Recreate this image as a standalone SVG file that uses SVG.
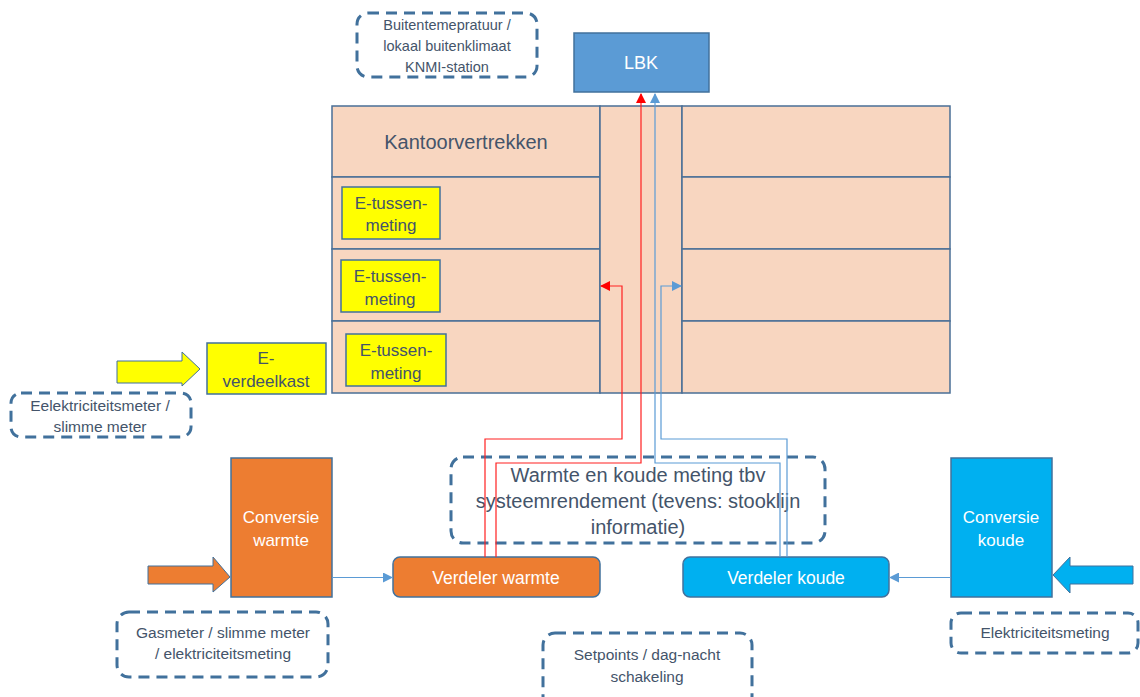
<svg xmlns="http://www.w3.org/2000/svg" width="1140" height="697" viewBox="0 0 1140 697">
<defs>
<style>
text{font-family:"Liberation Sans",Arial,sans-serif;text-anchor:middle}
.lbl{fill:#44546a}
.wt{fill:#ffffff}
.dash{fill:none;stroke:#41719c;stroke-width:3;stroke-dasharray:11 7}
.room{fill:#f8d6c0;stroke:#4a6f96;stroke-width:1.5}
.ybox{fill:#ffff00;stroke:#41719c;stroke-width:1.5}
.red{fill:none;stroke:#ff2020;stroke-width:1.2}
.blu{fill:none;stroke:#5b9bd5;stroke-width:1.2}
.n{font-size:15.5px}
.e{font-size:17px}
</style>
<marker id="ar" viewBox="0 0 10 10" refX="9" refY="5" markerWidth="10" markerHeight="10" markerUnits="userSpaceOnUse" orient="auto"><path d="M0,0L10,5L0,10z" fill="#ff0000"/></marker>
<marker id="ab" viewBox="0 0 10 10" refX="9" refY="5" markerWidth="10" markerHeight="10" markerUnits="userSpaceOnUse" orient="auto"><path d="M0,0L10,5L0,10z" fill="#5b9bd5"/></marker>
</defs>
<rect width="1140" height="697" fill="#ffffff"/>

<g id="building">
<rect class="room" x="332" y="106" width="268" height="71"/>
<rect class="room" x="332" y="177" width="268" height="72"/>
<rect class="room" x="332" y="249" width="268" height="72"/>
<rect class="room" x="332" y="321" width="268" height="72"/>
<rect class="room" x="600" y="106" width="82" height="287"/>
<rect class="room" x="682" y="106" width="268" height="71"/>
<rect class="room" x="682" y="177" width="268" height="72"/>
<rect class="room" x="682" y="249" width="268" height="72"/>
<rect class="room" x="682" y="321" width="268" height="72"/>
<text class="lbl" x="466" y="149" font-size="20">Kantoorvertrekken</text>
</g>

<g id="etm1"><rect class="ybox" x="342" y="187" width="98" height="52"/><text class="lbl e" x="391" y="209">E-tussen-</text><text class="lbl e" x="391" y="231">meting</text></g>
<g id="etm2"><rect class="ybox" x="341" y="260" width="99" height="52"/><text class="lbl e" x="390" y="282">E-tussen-</text><text class="lbl e" x="390" y="305">meting</text></g>
<g id="etm3"><rect class="ybox" x="346" y="334" width="100" height="52"/><text class="lbl e" x="396" y="356">E-tussen-</text><text class="lbl e" x="396" y="379">meting</text></g>

<g id="lbk"><rect x="574" y="33" width="135" height="59" fill="#5b9bd5" stroke="#41719c" stroke-width="1.5"/><text class="wt" x="641" y="69" font-size="18">LBK</text></g>

<g id="everdeel"><rect x="207" y="343" width="119" height="51" fill="#ffff00" stroke="#41719c" stroke-width="1.5"/><text class="lbl e" x="266" y="364">E-</text><text class="lbl e" x="266" y="387">verdeelkast</text></g>

<g id="conv-warmte"><rect x="231" y="458" width="101" height="139" fill="#ed7d31" stroke="#41719c" stroke-width="1.5"/><text class="wt e" x="281" y="523">Conversie</text><text class="wt e" x="281" y="546">warmte</text></g>
<g id="conv-koude"><rect x="951" y="458" width="101" height="139" fill="#00b0f0" stroke="#41719c" stroke-width="1.5"/><text class="wt e" x="1001" y="523">Conversie</text><text class="wt e" x="1001" y="546">koude</text></g>

<g id="verd-warmte"><rect x="393" y="557" width="207" height="40" rx="7" fill="#ed7d31" stroke="#41719c" stroke-width="1.5"/><text class="wt" x="496" y="584" font-size="17.5">Verdeler warmte</text></g>
<g id="verd-koude"><rect x="683" y="557" width="206" height="40" rx="7" fill="#00b0f0" stroke="#41719c" stroke-width="1.5"/><text class="wt" x="786" y="584" font-size="17.5">Verdeler koude</text></g>

<g id="arrow-yellow"><path d="M117,361H182V352L200,369L182,386V383H117Z" fill="#ffff00" stroke="#41719c" stroke-width="1"/></g>
<g id="arrow-orange"><path d="M148,566H213V557L230,577L213,592V584H148Z" fill="#ed7d31" stroke="#41719c" stroke-width="1"/></g>
<g id="arrow-blue"><path d="M1133,566H1070V557L1053,575L1070,593V584H1133Z" fill="#00b0f0" stroke="#41719c" stroke-width="1"/></g>

<g id="note-buiten"><rect class="dash" x="357" y="13" width="180" height="64" rx="11"/><text class="lbl" x="447" y="30" font-size="14.5">Buitentemepratuur /</text><text class="lbl" x="447" y="51" font-size="14.5">lokaal buitenklimaat</text><text class="lbl" x="447" y="72" font-size="14.5">KNMI-station</text></g>
<g id="note-elek"><rect class="dash" x="11" y="393" width="180" height="44" rx="10"/><text class="lbl n" x="100" y="411">Eelektriciteitsmeter /</text><text class="lbl n" x="100" y="432">slimme meter</text></g>
<g id="note-wk"><rect class="dash" x="451" y="457" width="374" height="86" rx="12"/><text class="lbl" x="638" y="482" font-size="20">Warmte en koude meting tbv</text><text class="lbl" x="638" y="508" font-size="20">systeemrendement (tevens: stooklijn</text><text class="lbl" x="638" y="534" font-size="20">informatie)</text></g>
<g id="note-gas"><rect class="dash" x="117" y="612" width="211" height="65" rx="12"/><text class="lbl n" x="223" y="638">Gasmeter / slimme meter</text><text class="lbl n" x="223" y="659">/ elektriciteitsmeting</text></g>
<g id="note-elkoude"><rect class="dash" x="951" y="613" width="187" height="40" rx="10"/><text class="lbl n" x="1045" y="638">Elektriciteitsmeting</text></g>
<g id="note-setpoints"><rect class="dash" x="543" y="633" width="209" height="75" rx="12"/><text class="lbl n" x="647" y="660">Setpoints / dag-nacht</text><text class="lbl n" x="647" y="682">schakeling</text></g>

<g id="connectors">
<path class="red" d="M496,557V463H641V94" marker-end="url(#ar)"/>
<path class="red" d="M485,557V439H622V286H601" marker-end="url(#ar)"/>
<path class="blu" d="M780,557V463H655V94" marker-end="url(#ab)"/>
<path class="blu" d="M787,557V439H661V286H681" marker-end="url(#ab)"/>
<path class="blu" d="M332,577.5H392" marker-end="url(#ab)"/>
<path class="blu" d="M951,577.5H890" marker-end="url(#ab)"/>
</g>
</svg>
